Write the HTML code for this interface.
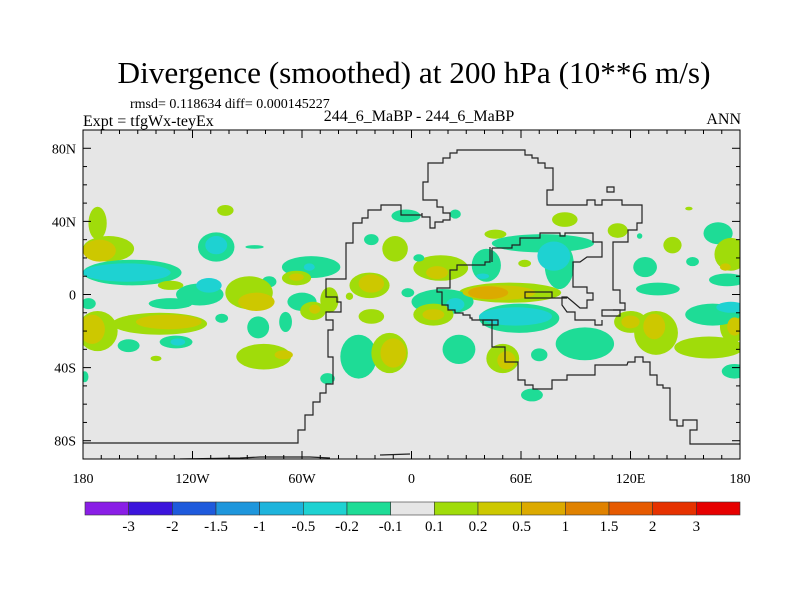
<!DOCTYPE html>
<html><head><meta charset="utf-8"><style>
html,body{margin:0;padding:0;background:#fff;}
svg{display:block;font-family:"Liberation Serif",serif;}
</style></head><body>
<svg id="chart" width="800" height="600" viewBox="0 0 800 600">
<text x="414" y="83" font-size="31" text-anchor="middle" textLength="593" lengthAdjust="spacingAndGlyphs">Divergence (smoothed) at 200 hPa (10**6 m/s)</text>
<text x="130" y="108" font-size="14">rmsd= 0.118634 diff= 0.000145227</text>
<text x="83" y="126" font-size="16">Expt = tfgWx-teyEx</text>
<text x="419" y="121" font-size="16" text-anchor="middle">244_6_MaBP - 244_6_MaBP</text>
<text x="741" y="124" font-size="16" text-anchor="end">ANN</text>
<defs><clipPath id="plotclip"><rect x="83" y="130" width="657" height="329"/></clipPath></defs>
<rect x="83" y="130" width="657" height="329" fill="#e6e6e6"/>
<g id="field" clip-path="url(#plotclip)"></g>
<g id="coast" fill="none" stroke="#222" stroke-width="1.2" clip-path="url(#plotclip)"></g>
<rect x="83" y="130" width="657" height="329" fill="none" stroke="#000" stroke-width="1"/>
<g id="axes"></g>
<g id="colorbar"></g>
</svg>
<script>
// contour levels & colors
const levels = [-3,-2,-1.5,-1,-0.5,-0.2,-0.1,0.1,0.2,0.5,1,1.5,2,3];
const levelLabels = ["-3","-2","-1.5","-1","-0.5","-0.2","-0.1","0.1","0.2","0.5","1","1.5","2","3"];
const colors = ["#8a1ee6","#3c14dc","#1e5adc","#1e96dc","#1eb4dc","#1ed2d2","#1edc96","#e6e6e6","#a0dc0a","#cdc800","#dcaa00","#e08200","#e65a00","#e63200","#e60000"];
// x/y tick data
const lonTicks = [-180,-120,-60,0,60,120,180];
const lonLabels = ["180","120W","60W","0","60E","120E","180"];
const latTicks = [80,40,0,-40,-80];
const latLabels = ["80N","40N","0","40S","80S"];
// field anomaly blobs (lon, lat, value, radii in degrees)
const blobLon = [-172,-166,-171,-153,-156,-102,-107,-107,-55,-56,-78,-63,-63,-132,-116,-111,-132,-89,-85,-60,-54,-53,-69,-104,-84,-177,-172,-138,-175,-133,-155,-129,-128,-81,-70,-46,-140,-179,-29,-12,-10,-23,-22,-22,-9,-22,-3,-2,-34,-45,-86,
84,46,24,113,72,81,41,78,62,39,16,14,4,54,48,42,17,24,12,12,59,57,95,26,50,52,70,66,120,120,134,133,163,176,177,165,175,177,128,135,154,143,168,175,172,173,152,125];
const blobLat = [39,25,24,12,12,46,26,27,15,15,7,9,9.5,5,0,5,-5,1,-4,-4,-9,-8,-15,-13,-18,-5,-20,-16,-19,-15,-28,-26,-26,-34,-33,-46,-35,-45,-34,-32,-32,5,6,-12,25,30,43,1,-1,-3,26,
41,33,44,35,28,16,16,21,17,10,14.5,12,20,1,1,1,-4,-5.5,-11,-11,-13,-12,-27,-30,-35,-36,-33,-55,-15,-15,-21,-17.5,-29,-17.5,-17.5,-11,-7,-42,15,3,18,27,33.5,22,15,8,47,32];
const blobVal = [0.15,0.15,0.3,-0.15,-0.3,0.15,-0.15,-0.3,-0.15,-0.3,-0.15,0.15,0.3,0.15,-0.15,-0.3,-0.15,0.15,0.3,-0.15,0.15,0.3,-0.15,-0.15,-0.15,-0.15,0.15,0.15,0.3,0.3,-0.15,-0.15,-0.3,0.15,0.3,-0.15,0.15,-0.15,-0.15,0.15,0.3,0.15,0.3,0.15,0.15,-0.15,-0.15,-0.15,0.15,0.15,-0.15,
0.15,0.15,-0.15,0.15,-0.15,-0.15,-0.15,-0.3,0.15,-0.3,0.15,0.3,-0.15,0.15,0.3,0.7,-0.15,-0.3,0.15,0.3,-0.15,-0.3,-0.15,-0.15,0.15,0.3,-0.15,-0.15,0.15,0.3,0.15,0.3,0.15,0.15,0.3,-0.15,-0.3,-0.15,-0.15,-0.15,-0.15,0.15,-0.15,0.15,0.3,-0.15,0.15,-0.15];
const blobRx = [5,14,9,27,24,4.5,10,6,16,3,4,8,4,7,13,7,12,13,10,8,7,3,3.5,3.5,6,4,11,26,7,18,6,9,4,15,5,4,3,2,10,10,7,11,7,7,7,4,8,3.5,2,5,5,
7,6,3,5.5,28,8,8,9,3.5,3.5,15,6,3,28,20,11,17,5,11,6,22,20,16,9,9,5,4.5,6,9,5,12,6,19,7,4,15,8,7,6.5,12,3.5,5,8,9,3,10,2,1.5];
const blobRy = [9,7,6,7,5,3,8,5,6,2,3,4,2,2.5,6,4,3,9,5,5,5,2.5,5.5,2.5,6,3,11,6,8,4,3.5,3.5,2,7,2.5,3,1.5,3,12,11,8,7,5,4,7,3,3.5,2.5,2,7,1,
4,2.5,2.5,4,5,13,9,8,2,1.5,7,3.5,2,5.5,4,3.5,7,3.5,6,3,8,5,9,8,8,5,3.5,3.5,6,3.5,12,7,6,9,5,6,3,4,5.5,3.5,2.5,4.5,6,9,2,3.5,1,1.5];

const X0=83, X1=740, Y0=130, Y1=459;
const xScale = lon => X0 + (lon+180)/360*(X1-X0);
const yScale = lat => Y0 + (90-lat)/180*(Y1-Y0);
const pxPerDegX=(X1-X0)/360, pxPerDegY=(Y1-Y0)/180;
function colorFor(v){let i=0;while(i<levels.length&&v>levels[i])i++;return colors[i];}
const NS="http://www.w3.org/2000/svg";
function mk(tag,attrs,parent){const e=document.createElementNS(NS,tag);for(const k in attrs)e.setAttribute(k,attrs[k]);parent.appendChild(e);return e;}

const field=document.getElementById('field');
const order=blobVal.map((v,i)=>i).sort((a,b)=>Math.abs(blobVal[a])-Math.abs(blobVal[b]));
order.forEach(i=>{
  const e=mk('ellipse',{cx:xScale(blobLon[i]),cy:yScale(blobLat[i]),rx:blobRx[i]*pxPerDegX,ry:blobRy[i]*pxPerDegY,fill:colorFor(blobVal[i])},field);
  
  
});

// coastlines (pixel traces of land outline)
const coastPaths=[
"M83,443 L298,443 298,430 305,430 305,415 313,415 313,402 320,402 320,393 326,393 326,384 333,384 333,357 328,357 328,330 333,330 333,320 326,320 326,312 341,312 341,302 337,302 337,297 326,297 326,279 346,279 346,243 353,243 353,223 362,223 362,218 368,218 368,210 381,210 381,205 401,205 401,215 415,215 422,215 422,213 422,217 430,217 430,228 435,228 435,222 443,222 443,220 450,220 450,213 443,213 443,207 437,207 437,200 423,200 423,182 428,182 428,163 443,163 443,158 450,158 450,153 457,153 457,150 525,150 525,155 532,155 532,158 538,158 538,163 545,163 545,168 553,168 553,190 547,190 547,205 587,205 587,200 595,200 595,205 602,205 602,200 622,200 622,205 642,205 642,223 637,223 637,230 628,230 628,242 613,242 613,290 620,290 620,303 625,303 625,310 613,310",
"M490,247 L490,262 485,262 485,265 457,265 457,270 450,270 450,288 437,288 437,292 442,292 442,305 448,305 448,310 455,310 455,313 463,313 463,315 470,315 470,318 472,318 472,320 492,320 492,347 505,347 505,362 518,362 518,380 525,380 525,385 533,385 533,389 552,389 552,380 567,380 567,375 595,375 595,365 627,365 628,362 635,362 635,357 643,357 643,362 650,362 650,375 657,375 657,385 663,385 663,388 670,388 670,420 677,420 677,426 683,426 683,420 697,420 697,430 690,430 690,444 740,444",
"M492,248 L492,262 M492,248 L512,248 512,245 520,245 520,238 540,238 540,233 560,233 560,236 565,236 565,233 593,233 593,242 602,242 602,257 587,257 580,262 573,262 573,287 587,287 587,293 593,293 593,300 587,300 587,308 580,308 573,302 567,297 562,297 562,305 567,312 575,312 575,320 595,320 595,325 602,325 602,320",
"M525,292 L552,292 552,298 525,298 Z M552,298 L567,298",
"M483,320 L498,320 498,325 483,325 Z",
"M602,310 L620,310 620,316 602,316 Z",
"M607,187 L614,187 614,192 607,192 Z",
"M180,459 L240,458 260,457 310,457 330,458 M380,455 L410,454"
];
const coast=document.getElementById('coast');
coastPaths.forEach(d=>{
  const p=mk('path',{d:d},coast);
  
  
});

// axes ticks & labels
const axes=document.getElementById('axes');
for(let lon=-180;lon<=180;lon+=10){
  const x=xScale(lon), major=lonTicks.includes(lon), L=major?8:4;
  mk('line',{x1:x,y1:Y0,x2:x,y2:Y0+L,stroke:'#000','stroke-width':1},axes);
  mk('line',{x1:x,y1:Y1,x2:x,y2:Y1-L,stroke:'#000','stroke-width':1},axes);
}
for(let lat=-90;lat<=90;lat+=10){
  const y=yScale(lat), major=latTicks.includes(lat), L=major?8:4;
  mk('line',{x1:X0,y1:y,x2:X0+L,y2:y,stroke:'#000','stroke-width':1},axes);
  mk('line',{x1:X1,y1:y,x2:X1-L,y2:y,stroke:'#000','stroke-width':1},axes);
}
lonTicks.forEach((lon,i)=>{
  const t=mk('text',{x:xScale(lon),y:483,'font-size':14,'text-anchor':'middle'},axes);
  t.textContent=lonLabels[i];
  
  
});
latTicks.forEach((lat,i)=>{
  const t=mk('text',{x:76,y:yScale(lat)+5,'font-size':14,'text-anchor':'end'},axes);
  t.textContent=latLabels[i];
  
  
});

// colorbar
const cb=document.getElementById('colorbar');
const CB0=85, CB1=740, CBy=502, CBh=13, bw=(CB1-CB0)/colors.length;
colors.forEach((c,i)=>{
  const r=mk('rect',{x:CB0+i*bw,y:CBy,width:bw,height:CBh,fill:c,stroke:'#333','stroke-width':0.6},cb);
  
  
});
levelLabels.forEach((s,i)=>{
  const t=mk('text',{x:CB0+(i+1)*bw,y:531,'font-size':15,'text-anchor':'middle'},cb);
  t.textContent=s;
  
  
});
</script>
</body></html>
